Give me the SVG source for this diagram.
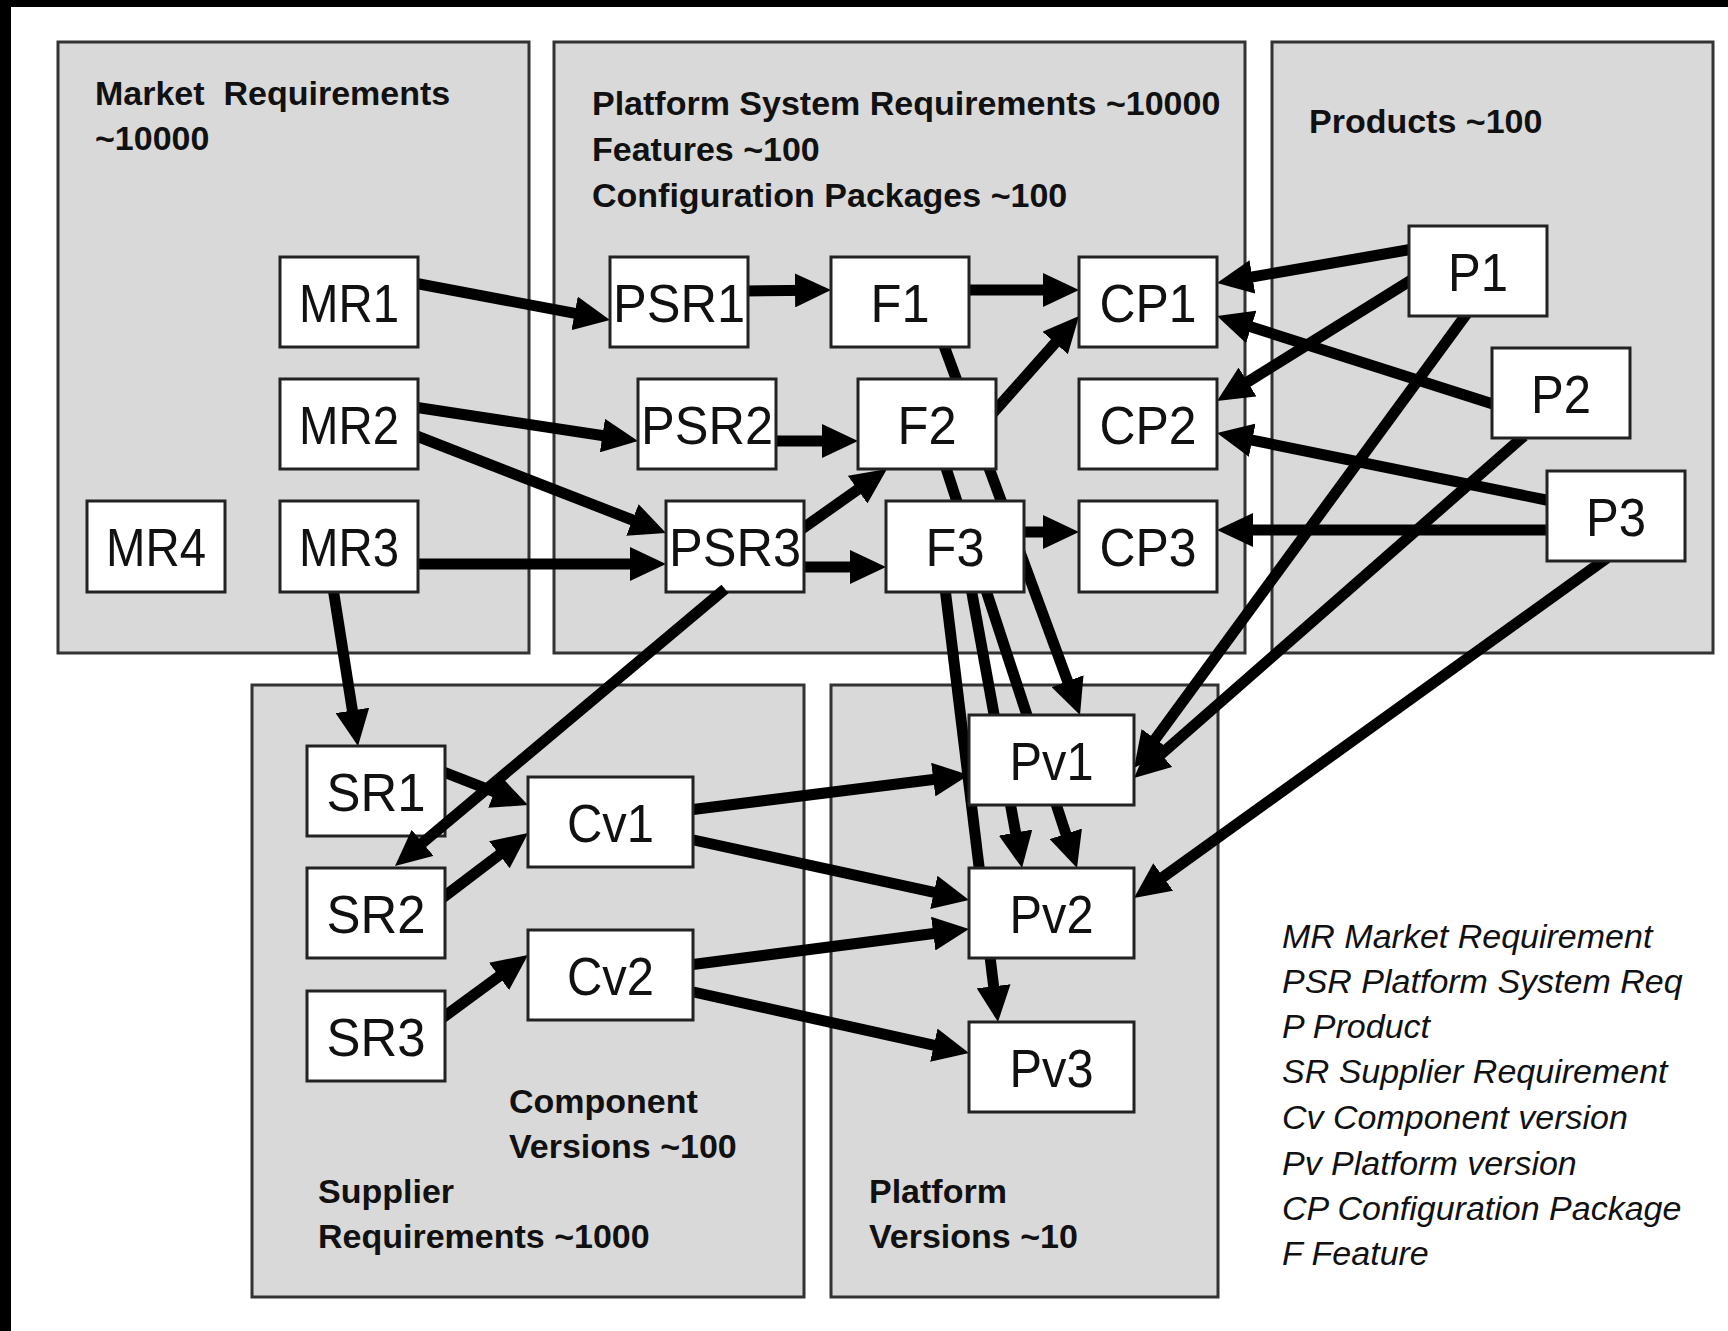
<svg xmlns="http://www.w3.org/2000/svg" width="1728" height="1331" viewBox="0 0 1728 1331">
<defs>
<style>
.grp{fill:#d9d9d9;stroke:#333;stroke-width:3}
.nd rect{fill:#fff;stroke:#222;stroke-width:3}
.nd text{font-family:"Liberation Sans",Arial,sans-serif;font-size:54px;fill:#111;text-anchor:middle}
.hd{font-family:"Liberation Sans",Arial,sans-serif;font-size:34px;font-weight:bold;fill:#111}
.lg{font-family:"Liberation Sans",Arial,sans-serif;font-size:34px;font-style:italic;fill:#111}
.cn line{stroke:#000;stroke-width:11;marker-end:url(#ah)}
</style>
<marker id="ah" markerUnits="userSpaceOnUse" markerWidth="36" markerHeight="34" refX="18" refY="17" orient="auto">
<path d="M0,0 L36,17 L0,34 Z" fill="#000"/>
</marker>
</defs>
<rect x="0" y="0" width="1728" height="1331" fill="#fff"/>
<rect x="0" y="0" width="1728" height="7" fill="#000"/>
<rect x="0" y="0" width="11" height="1331" fill="#000"/>

<g id="groups">
<g id="grp-market"><rect class="grp" x="58" y="42" width="471" height="611"/>
<text class="hd" x="95" y="105">Market&#160; Requirements</text>
<text class="hd" x="95" y="150">~10000</text></g>
<g id="grp-platform-system"><rect class="grp" x="554" y="42" width="691" height="611"/>
<text class="hd" x="592" y="115">Platform System Requirements ~10000</text>
<text class="hd" x="592" y="161">Features ~100</text>
<text class="hd" x="592" y="207">Configuration Packages ~100</text></g>
<g id="grp-products"><rect class="grp" x="1272" y="42" width="441" height="611"/>
<text class="hd" x="1309" y="133">Products ~100</text></g>
<g id="grp-supplier"><rect class="grp" x="252" y="685" width="552" height="612"/>
<text class="hd" x="509" y="1113">Component</text>
<text class="hd" x="509" y="1158">Versions ~100</text>
<text class="hd" x="318" y="1203">Supplier</text>
<text class="hd" x="318" y="1248">Requirements ~1000</text></g>
<g id="grp-platform-versions"><rect class="grp" x="831" y="685" width="387" height="612"/>
<text class="hd" x="869" y="1203">Platform</text>
<text class="hd" x="869" y="1248">Versions ~10</text></g>
</g>

<g id="connectors" class="cn">
<line x1="414" y1="283" x2="592.3" y2="316.7"/>
<line x1="744" y1="291" x2="813" y2="290.2"/>
<line x1="965" y1="290" x2="1061" y2="290"/>
<line x1="992" y1="414" x2="1067.1" y2="329.5"/>
<line x1="414" y1="407" x2="620.2" y2="438.3"/>
<line x1="414" y1="435" x2="649.2" y2="526.5"/>
<line x1="772" y1="441" x2="840" y2="441"/>
<line x1="414" y1="564" x2="648" y2="564"/>
<line x1="799" y1="531" x2="872.3" y2="479.3"/>
<line x1="799" y1="567" x2="868" y2="567"/>
<line x1="1020" y1="532" x2="1061" y2="532"/>
<line x1="1413" y1="249" x2="1234.7" y2="280"/>
<line x1="1413" y1="279" x2="1232.3" y2="391.5"/>
<line x1="1496" y1="405" x2="1234.1" y2="321.5"/>
<line x1="1551" y1="501" x2="1234.6" y2="436.6"/>
<line x1="1551" y1="530" x2="1235" y2="530"/>
<line x1="1468" y1="312" x2="1144.7" y2="753.5"/>
<line x1="1524" y1="436" x2="1147.5" y2="766.1"/>
<line x1="1607" y1="558" x2="1148.6" y2="887.5"/>
<line x1="943" y1="343" x2="1073.8" y2="698.1"/>
<line x1="945" y1="465" x2="1071.4" y2="850.9"/>
<line x1="971" y1="588" x2="1018.8" y2="850.3"/>
<line x1="945" y1="588" x2="995.8" y2="1004.1"/>
<line x1="333" y1="588" x2="355.2" y2="728.2"/>
<line x1="441" y1="771" x2="511.2" y2="798.5"/>
<line x1="441" y1="899" x2="513.7" y2="843.9"/>
<line x1="441" y1="1019" x2="513.5" y2="965.7"/>
<line x1="689" y1="810" x2="951.1" y2="777.3"/>
<line x1="689" y1="839" x2="951.4" y2="896.2"/>
<line x1="689" y1="965" x2="951.1" y2="931.3"/>
<line x1="689" y1="991" x2="951.4" y2="1049.1"/>
</g>

<g id="nodes">
<g id="MR1" class="nd"><rect x="280" y="257" width="138" height="90"/><text x="349" y="322" textLength="100" lengthAdjust="spacingAndGlyphs">MR1</text></g>
<g id="MR2" class="nd"><rect x="280" y="379" width="138" height="90"/><text x="349" y="444" textLength="100" lengthAdjust="spacingAndGlyphs">MR2</text></g>
<g id="MR3" class="nd"><rect x="280" y="501" width="138" height="91"/><text x="349" y="566" textLength="100" lengthAdjust="spacingAndGlyphs">MR3</text></g>
<g id="MR4" class="nd"><rect x="87" y="501" width="138" height="91"/><text x="156" y="566" textLength="100" lengthAdjust="spacingAndGlyphs">MR4</text></g>
<g id="PSR1" class="nd"><rect x="610" y="257" width="138" height="90"/><text x="679" y="322" textLength="132" lengthAdjust="spacingAndGlyphs">PSR1</text></g>
<g id="PSR2" class="nd"><rect x="638" y="379" width="138" height="90"/><text x="707" y="444" textLength="132" lengthAdjust="spacingAndGlyphs">PSR2</text></g>
<g id="PSR3" class="nd"><rect x="666" y="501" width="138" height="91"/><text x="735" y="566" textLength="132" lengthAdjust="spacingAndGlyphs">PSR3</text></g>
<g id="F1" class="nd"><rect x="831" y="257" width="138" height="90"/><text x="900" y="322" textLength="59" lengthAdjust="spacingAndGlyphs">F1</text></g>
<g id="F2" class="nd"><rect x="858" y="379" width="138" height="90"/><text x="927" y="444" textLength="59" lengthAdjust="spacingAndGlyphs">F2</text></g>
<g id="F3" class="nd"><rect x="886" y="501" width="138" height="91"/><text x="955" y="566" textLength="59" lengthAdjust="spacingAndGlyphs">F3</text></g>
<g id="CP1" class="nd"><rect x="1079" y="257" width="138" height="90"/><text x="1148" y="322" textLength="97" lengthAdjust="spacingAndGlyphs">CP1</text></g>
<g id="CP2" class="nd"><rect x="1079" y="379" width="138" height="90"/><text x="1148" y="444" textLength="97" lengthAdjust="spacingAndGlyphs">CP2</text></g>
<g id="CP3" class="nd"><rect x="1079" y="501" width="138" height="91"/><text x="1148" y="566" textLength="97" lengthAdjust="spacingAndGlyphs">CP3</text></g>
<g id="P1" class="nd"><rect x="1409" y="226" width="138" height="90"/><text x="1478" y="291" textLength="60" lengthAdjust="spacingAndGlyphs">P1</text></g>
<g id="P2" class="nd"><rect x="1492" y="348" width="138" height="90"/><text x="1561" y="413" textLength="60" lengthAdjust="spacingAndGlyphs">P2</text></g>
<g id="P3" class="nd"><rect x="1547" y="471" width="138" height="90"/><text x="1616" y="536" textLength="60" lengthAdjust="spacingAndGlyphs">P3</text></g>
<g id="SR1" class="nd"><rect x="307" y="746" width="138" height="90"/><text x="376" y="811" textLength="99" lengthAdjust="spacingAndGlyphs">SR1</text></g>
<g id="SR2" class="nd"><rect x="307" y="868" width="138" height="90"/><text x="376" y="933" textLength="99" lengthAdjust="spacingAndGlyphs">SR2</text></g>
<g id="SR3" class="nd"><rect x="307" y="991" width="138" height="90"/><text x="376" y="1056" textLength="99" lengthAdjust="spacingAndGlyphs">SR3</text></g>
<g id="Cv1" class="nd"><rect x="528" y="777" width="165" height="90"/><text x="610.5" y="842" textLength="87" lengthAdjust="spacingAndGlyphs">Cv1</text></g>
<g id="Cv2" class="nd"><rect x="528" y="930" width="165" height="90"/><text x="610.5" y="995" textLength="87" lengthAdjust="spacingAndGlyphs">Cv2</text></g>
<g id="Pv1" class="nd"><rect x="969" y="715" width="165" height="90"/><text x="1051.5" y="780" textLength="84" lengthAdjust="spacingAndGlyphs">Pv1</text></g>
<g id="Pv2" class="nd"><rect x="969" y="868" width="165" height="90"/><text x="1051.5" y="933" textLength="84" lengthAdjust="spacingAndGlyphs">Pv2</text></g>
<g id="Pv3" class="nd"><rect x="969" y="1022" width="165" height="90"/><text x="1051.5" y="1087" textLength="84" lengthAdjust="spacingAndGlyphs">Pv3</text></g>
</g>

<g id="connectors-front" class="cn">
<line x1="725" y1="589" x2="408.8" y2="854.4"/>
</g>

<g id="legend">
<text class="lg" x="1282" y="948">MR Market Requirement</text>
<text class="lg" x="1282" y="993">PSR Platform System Req</text>
<text class="lg" x="1282" y="1038">P Product</text>
<text class="lg" x="1282" y="1083">SR Supplier Requirement</text>
<text class="lg" x="1282" y="1129">Cv Component version</text>
<text class="lg" x="1282" y="1175">Pv Platform version</text>
<text class="lg" x="1282" y="1220">CP Configuration Package</text>
<text class="lg" x="1282" y="1265">F Feature</text>
</g>
</svg>
